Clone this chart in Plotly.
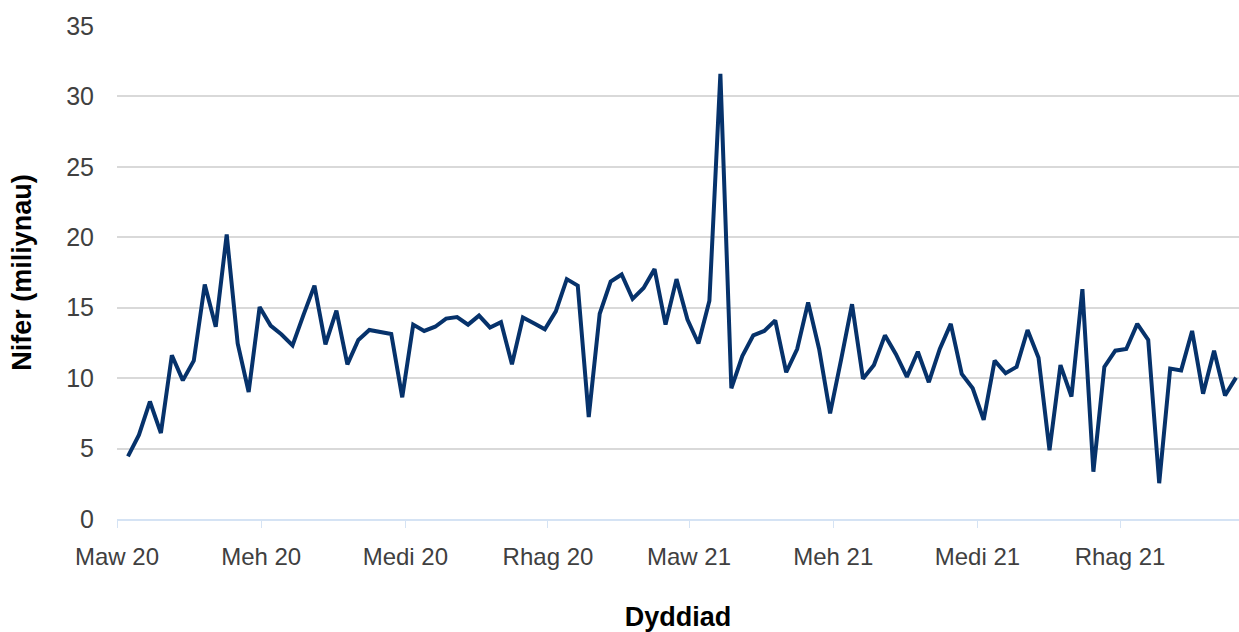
import pandas as pd
import plotly.graph_objects as go

# Weekly values (millions), first week ending 2020-03-08
start_date = "2020-03-08"
values = [
    4.45, 5.97, 8.34, 6.10, 11.62, 9.84, 11.24, 16.65, 13.65, 20.20,
    12.46, 9.02, 15.05, 13.73, 13.10, 12.33, 14.49, 16.57, 12.40, 14.80,
    10.98, 12.71, 13.42, 13.30, 13.14, 8.64, 13.80, 13.35, 13.65, 14.23,
    14.34, 13.80, 14.44, 13.60, 13.98, 10.98, 14.31, 13.90, 13.47, 14.74,
    17.03, 16.57, 7.24, 14.57, 16.85, 17.36, 15.63, 16.40, 17.74, 13.80,
    17.03, 14.16, 12.46, 15.50, 31.60, 9.28, 11.57, 13.04, 13.35, 14.10,
    10.42, 12.07, 15.38, 12.07, 7.50, 11.30, 15.25, 9.96, 10.93, 13.04,
    11.70, 10.09, 11.87, 9.71, 12.07, 13.85, 10.30, 9.28, 7.04, 11.24,
    10.35, 10.80, 13.42, 11.44, 4.88, 10.93, 8.69, 16.32, 3.36, 10.80,
    11.95, 12.07, 13.85, 12.71, 2.54, 10.68, 10.55, 13.35, 8.90, 11.95,
    8.77, 10.04,
]
dates = pd.date_range(start=start_date, periods=len(values), freq="7D")

tick_dates = ["2020-03-01", "2020-06-01", "2020-09-01", "2020-12-01",
              "2021-03-01", "2021-06-01", "2021-09-01", "2021-12-01"]
tick_labels = ["Maw 20", "Meh 20", "Medi 20", "Rhag 20",
               "Maw 21", "Meh 21", "Medi 21", "Rhag 21"]
y_ticks = [0, 5, 10, 15, 20, 25, 30, 35]

x_title = "Dyddiad"
y_title = "Nifer (miliynau)"

fig = go.Figure()
fig.add_trace(go.Scatter(
    x=dates, y=values, mode="lines",
    line=dict(color="#06326b", width=4),
    showlegend=False,
))

font_family = "Liberation Sans, Arial, sans-serif"

fig.update_layout(
    width=1239, height=632,
    margin=dict(l=117, r=0, t=26, b=113),
    paper_bgcolor="white", plot_bgcolor="white",
    font=dict(family=font_family, color="#404040"),
)
fig.update_xaxes(
    range=["2020-03-01", "2022-02-14 22:00"],
    tickmode="array", tickvals=tick_dates, ticktext=tick_labels,
    tickfont=dict(size=24, color="#404040"),
    showgrid=False, zeroline=False,
    showline=True, linecolor="#d5e3f4", linewidth=2,
    ticks="outside", ticklen=7, tickcolor="#d5e3f4", tickwidth=1,
    ticklabelstandoff=8,
    title=dict(text=f"<b>{x_title}</b>", font=dict(size=27, color="black"), standoff=44),
    automargin=False,
)
fig.update_yaxes(
    range=[0, 35],
    tickmode="array", tickvals=y_ticks,
    tickfont=dict(size=25, color="#404040"),
    showgrid=True, gridcolor="#d9d9d9", gridwidth=1.5,
    zeroline=False, showline=False,
    ticks="", ticklabelstandoff=22,
    title=dict(text=f"<b>{y_title}</b>", font=dict(size=27, color="black"), standoff=26),
    automargin=False,
)

fig.write_html(
    "out.html",
    config={"displayModeBar": False},
    post_script="document.body.style.margin='0';document.body.style.overflow='hidden';",
)
